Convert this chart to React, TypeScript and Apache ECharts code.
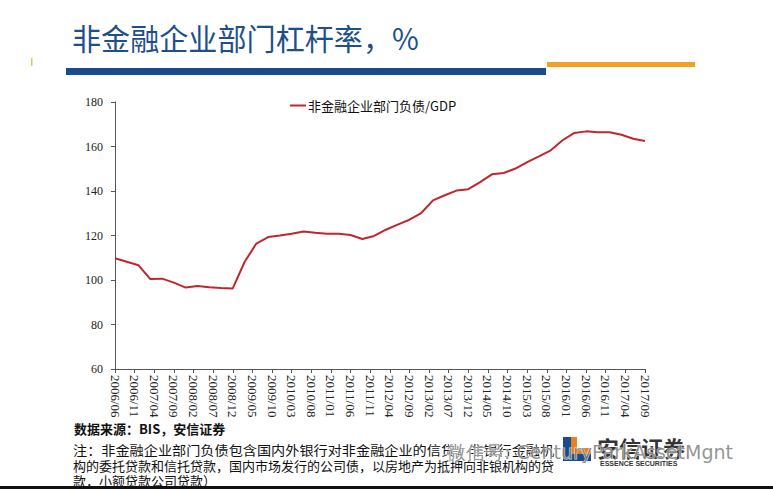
import React, { useEffect, useRef } from "react";
import * as echarts from "echarts";

const titleText = "非金融企业部门杠杆率，%";
const seriesName = "非金融企业部门负债/GDP";
const sourceText = "数据来源：BIS，安信证券";
const noteLines = [
  "注：非金融企业部门负债包含国内外银行对非金融企业的信贷，非银行金融机",
  "构的委托贷款和信托贷款，国内市场发行的公司债，以房地产为抵押向非银机构的贷",
  "款，小额贷款公司贷款）",
];
const watermark = "微信号: CenturyParkAssetMgnt";

const quarterDates = [
  "2006/06", "2006/09", "2006/12", "2007/03", "2007/06", "2007/09", "2007/12",
  "2008/03", "2008/06", "2008/09", "2008/12", "2009/03", "2009/06", "2009/09",
  "2009/12", "2010/03", "2010/06", "2010/09", "2010/12", "2011/03", "2011/06",
  "2011/09", "2011/12", "2012/03", "2012/06", "2012/09", "2012/12", "2013/03",
  "2013/06", "2013/09", "2013/12", "2014/03", "2014/06", "2014/09", "2014/12",
  "2015/03", "2015/06", "2015/09", "2015/12", "2016/03", "2016/06", "2016/09",
  "2016/12", "2017/03", "2017/06", "2017/09",
];
const leverage = [
  109.8, 108.2, 106.6, 100.4, 100.6, 98.8, 96.6,
  97.3, 96.7, 96.4, 96.2, 108.1, 116.4, 119.3,
  120.0, 120.8, 121.8, 121.2, 120.8, 120.8, 120.2,
  118.4, 119.8, 122.6, 124.9, 127.1, 130.1, 135.8,
  138.1, 140.2, 140.8, 144.0, 147.5, 148.1, 150.1,
  153.0, 155.6, 158.3, 162.8, 166.1, 166.8, 166.4,
  166.4, 165.3, 163.5, 162.5,
];

// monthly category axis from first to last date
const firstMonth = { y: 2006, m: 6 };
const lastMonth = { y: 2017, m: 9 };
const months: string[] = [];
for (let y = firstMonth.y, m = firstMonth.m; y < lastMonth.y || (y === lastMonth.y && m <= lastMonth.m); ) {
  months.push(`${y}/${String(m).padStart(2, "0")}`);
  m++;
  if (m > 12) { m = 1; y++; }
}

const yMin = 60;
const yMax = 180;
const yStep = 20;

export default function App() {
  const ref = useRef<HTMLDivElement>(null);
  useEffect(() => {
    if (!ref.current) return;
    const chart = echarts.init(ref.current, undefined, { renderer: "svg" });
    const cjk = "'Noto Sans CJK SC', 'Noto Sans', sans-serif";
    chart.setOption({
      animation: false,
      backgroundColor: "#ffffff",
      grid: { left: 115, top: 102, width: 530, height: 267 },
      legend: {
        left: 285,
        top: 94,
        icon: "rect",
        itemWidth: 16,
        itemHeight: 2,
        itemGap: 2,
        textStyle: { fontFamily: cjk, fontSize: 13, color: "#111", padding: [0, 0, 0, -3] },
        data: [seriesName],
      },
      xAxis: {
        type: "category",
        data: months,
        boundaryGap: false,
        axisLine: { lineStyle: { color: "#555", width: 1 } },
        axisTick: { interval: 4, length: 4, lineStyle: { color: "#555" } },
        axisLabel: {
          interval: 4,
          rotate: -90,
          margin: 6,
          fontFamily: "'Liberation Serif', serif",
          fontSize: 13,
          color: "#222",
        },
        splitLine: { show: false },
      },
      yAxis: {
        type: "value",
        min: yMin,
        max: yMax,
        interval: yStep,
        axisLine: { show: true, lineStyle: { color: "#555", width: 1 } },
        axisTick: { show: true, length: 4, lineStyle: { color: "#555" } },
        axisLabel: {
          margin: 12,
          fontFamily: "'Liberation Serif', serif",
          fontSize: 12,
          color: "#222",
        },
        splitLine: { show: false },
      },
      series: [
        {
          name: seriesName,
          type: "line",
          data: quarterDates.map((d, i) => [d, leverage[i]]),
          showSymbol: false,
          symbol: "none",
          lineStyle: { color: "#c0272d", width: 2 },
          itemStyle: { color: "#c0272d" },
        },
      ],
      graphic: [
        { type: "rect", shape: { x: 31, y: 58, width: 1.5, height: 8 }, style: { fill: "#e8c060" } },
        {
          type: "text",
          x: 72,
          y: 22,
          scaleX: 0.97,
          style: { text: titleText, font: `30px ${cjk}`, fill: "#1d4f8d" },
        },
        { type: "rect", shape: { x: 66, y: 68, width: 480, height: 7 }, style: { fill: "#1a4b8c" } },
        { type: "rect", shape: { x: 547, y: 62, width: 148, height: 5 }, style: { fill: "#f0a024" } },
        {
          type: "text",
          x: 74,
          y: 422,
          style: { text: sourceText, font: `bold 13px ${cjk}`, fill: "#111" },
        },
        {
          type: "text",
          x: 73,
          y: 443,
          scaleX: 1.09,
          style: { text: noteLines[0], font: `13px ${cjk}`, fill: "#111" },
        },
        {
          type: "text",
          x: 73,
          y: 459,
          style: { text: noteLines[1], font: `13px ${cjk}`, fill: "#111" },
        },
        {
          type: "text",
          x: 73,
          y: 474,
          style: { text: noteLines[2], font: `13px ${cjk}`, fill: "#111" },
        },
        // logo
        { type: "rect", shape: { x: 563, y: 437, width: 28, height: 24 }, style: { fill: "#1a4b8c" } },
        { type: "rect", shape: { x: 571, y: 437, width: 20, height: 17 }, style: { fill: "#e8821e" } },
        { type: "rect", shape: { x: 577, y: 437, width: 14, height: 11 }, style: { fill: "#ffffff" } },
        {
          type: "text",
          x: 597,
          y: 436,
          style: { text: "安信证券", font: `bold 22px ${cjk}`, fill: "#333" },
        },
        {
          type: "text",
          x: 600,
          y: 460,
          style: { text: "ESSENCE SECURITIES", font: `bold 7px 'Liberation Sans', sans-serif`, fill: "#333" },
        },
        {
          type: "text",
          x: 447,
          y: 442,
          style: {
            text: watermark,
            font: `19px 'DejaVu Sans', sans-serif`,
            fill: "rgba(120,120,120,0.8)",
            stroke: "rgba(255,255,255,0.8)",
            lineWidth: 1,
          },
        },
        { type: "rect", shape: { x: 0, y: 486, width: 773, height: 3 }, style: { fill: "#111" } },
      ],
    });
    return () => chart.dispose();
  }, []);
  return <div ref={ref} style={{ width: 773, height: 489, position: "fixed", left: 0, top: 0 }} />;
}
